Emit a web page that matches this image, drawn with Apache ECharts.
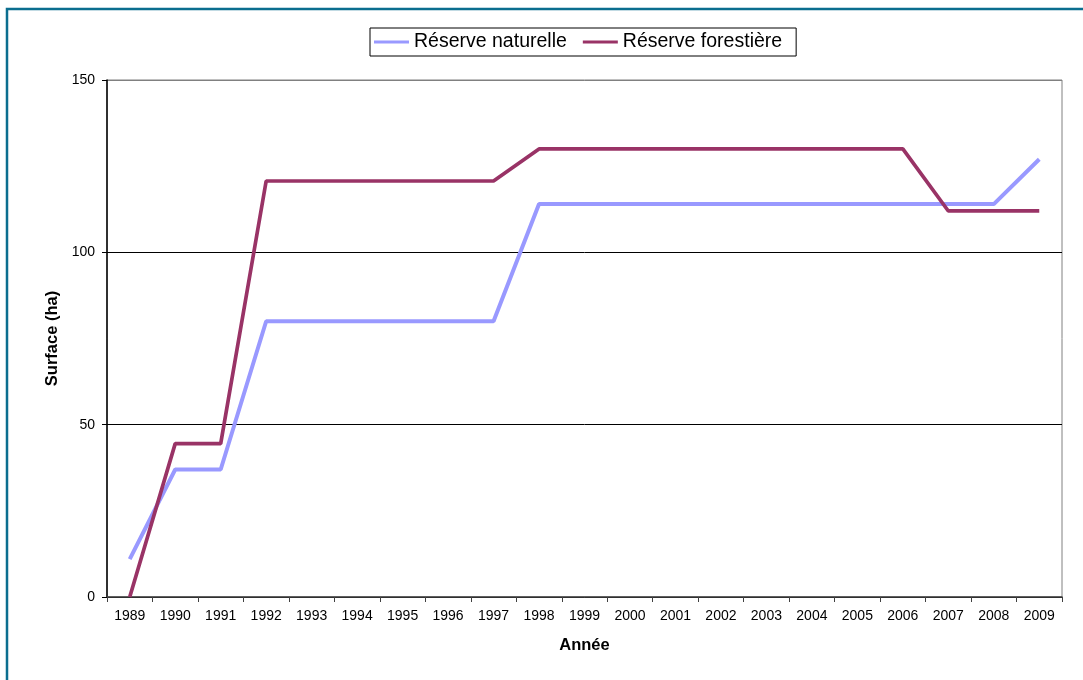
<!DOCTYPE html>
<html>
<head>
<meta charset="utf-8">
<script src="https://cdn.jsdelivr.net/npm/echarts@6/dist/echarts.min.js"></script>
<style>
  html, body { margin: 0; padding: 0; background: #fff; }
  #chart { width: 1083px; height: 680px; }
</style>
</head>
<body>
<div id="chart"></div>
<script>
const years = ['1989', '1990', '1991', '1992', '1993', '1994', '1995', '1996', '1997', '1998', '1999',
  '2000', '2001', '2002', '2003', '2004', '2005', '2006', '2007', '2008', '2009'];
// Réserve naturelle (ha)
const naturelle = [11, 37, 37, 80, 80, 80, 80, 80, 80, 114, 114,
  114, 114, 114, 114, 114, 114, 114, 114, 114, 127];
// Réserve forestière (ha)
const forestiere = [0, 44.5, 44.5, 120.7, 120.7, 120.7, 120.7, 120.7, 120.7, 130, 130,
  130, 130, 130, 130, 130, 130, 130, 112, 112, 112];

const font = 'Liberation Sans, Arial, sans-serif';

const chart = echarts.init(document.getElementById('chart'));
chart.setOption({
  animation: false,
  textStyle: { fontFamily: font, color: '#000' },
  graphic: [{
    type: 'polyline',
    shape: { points: [[7, 680], [7, 9], [1083, 9]] },
    style: { stroke: '#0b6e8f', lineWidth: 2.5, fill: null }
  }],
  legend: {
    left: 370,
    top: 28,
    padding: [4, 14, 4, 4],
    borderColor: '#000',
    borderWidth: 1,
    itemGap: 16,
    itemWidth: 35,
    itemHeight: 3,
    icon: 'rect',
    textStyle: { fontFamily: font, fontSize: 19.5, color: '#000' },
    data: ['Réserve naturelle', 'Réserve forestière']
  },
  grid: {
    left: 107, right: 21, top: 80, bottom: 83,
    show: true, borderColor: '#808080', borderWidth: 1
  },
  xAxis: {
    type: 'category',
    data: years,
    boundaryGap: true,
    name: 'Année',
    nameLocation: 'middle',
    nameGap: 40,
    nameTextStyle: { fontFamily: font, fontSize: 16.5, fontWeight: 'bold', color: '#000' },
    axisLine: { lineStyle: { color: '#404040', width: 1.5 } },
    axisTick: { show: true, length: 5, lineStyle: { color: '#404040' } },
    axisLabel: { margin: 12, fontFamily: font, fontSize: 14, color: '#000', interval: 0 }
  },
  yAxis: {
    type: 'value',
    min: 0, max: 150, interval: 50,
    name: 'Surface (ha)',
    nameLocation: 'middle',
    nameRotate: 90,
    nameGap: 44,
    nameTextStyle: { fontFamily: font, fontSize: 16.5, fontWeight: 'bold', color: '#000' },
    axisLine: { show: true, lineStyle: { color: '#000', width: 1.5 } },
    axisTick: { show: true, length: 5, lineStyle: { color: '#000' } },
    axisLabel: { margin: 12, fontFamily: font, fontSize: 14, color: '#000' },
    splitLine: { show: true, lineStyle: { color: ['#000', '#000', '#000', '#808080'], width: 1 } }
  },
  series: [
    {
      name: 'Réserve naturelle',
      type: 'line',
      data: naturelle,
      showSymbol: false,
      symbol: 'none',
      itemStyle: { color: '#9999ff' },
      lineStyle: { color: '#9999ff', width: 4 }
    },
    {
      name: 'Réserve forestière',
      type: 'line',
      data: forestiere,
      showSymbol: false,
      symbol: 'none',
      itemStyle: { color: '#993366' },
      lineStyle: { color: '#993366', width: 3.7 }
    }
  ]
});
</script>
</body>
</html>
